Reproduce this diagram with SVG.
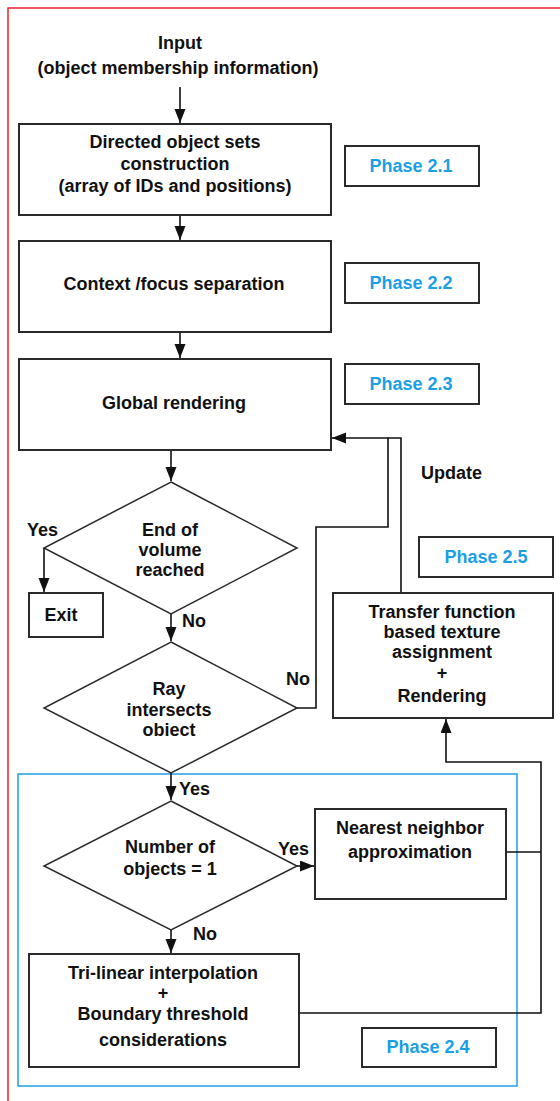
<svg xmlns="http://www.w3.org/2000/svg" width="560" height="1101" viewBox="0 0 560 1101">
<defs>
<marker id="arr" markerUnits="userSpaceOnUse" markerWidth="15" markerHeight="12" refX="14" refY="5.5" orient="auto"><path d="M0,0 L14,5.5 L0,11 z" fill="#111"/></marker>
<style>
text{font-family:"Liberation Sans",Arial,sans-serif;font-weight:bold;font-size:18px;fill:#111;text-anchor:middle}
.box{fill:#fff;stroke:#2a2a2a;stroke-width:2}
.dia{fill:#fff;stroke:#2a2a2a;stroke-width:1.5}
.ph{fill:#fff;stroke:#2a2a2a;stroke-width:2}
.pt{fill:#1a9fe6}
.lbl{text-anchor:start}
.con{fill:none;stroke:#111;stroke-width:1.6}
</style>
</defs>
<rect width="560" height="1101" fill="#fff"/>
<path d="M560,8 H8 V1101" fill="none" stroke="#e8232a" stroke-width="1.5"/>
<rect id="phase24frame" x="18" y="774" width="499" height="312" fill="none" stroke="#1ea0e6" stroke-width="1.5"/>

<g id="connectors">
<path class="con" d="M180,87 V123" marker-end="url(#arr)"/>
<path class="con" d="M180,215 V240" marker-end="url(#arr)"/>
<path class="con" d="M180,332 V358" marker-end="url(#arr)"/>
<path class="con" d="M171,450 V481" marker-end="url(#arr)"/>
<path class="con" d="M44,548 V592" marker-end="url(#arr)"/>
<path class="con" d="M171,614 V641" marker-end="url(#arr)"/>
<path class="con" d="M297,708 H316 V527 H388 V438 H332" marker-end="url(#arr)"/>
<path class="con" d="M401,593 V438 H388"/>
<path class="con" d="M171,773 V800" marker-end="url(#arr)"/>
<path class="con" d="M297,866 H314" marker-end="url(#arr)"/>
<path class="con" d="M171,930 V953" marker-end="url(#arr)"/>
<path class="con" d="M507,852 H541"/>
<path class="con" d="M299,1013 H541 V762 H446 V719" marker-end="url(#arr)"/>
</g>

<g id="input">
<text x="180" y="49">Input</text>
<text x="178" y="74">(object membership information)</text>
</g>

<g id="box1">
<rect class="box" x="19" y="124" width="312" height="91"/>
<text x="175" y="148">Directed object sets</text>
<text x="175" y="170">construction</text>
<text x="175" y="192">(array of IDs and positions)</text>
</g>
<g id="phase21"><rect class="ph" x="345" y="146" width="134" height="40"/><text class="pt" x="411" y="172">Phase 2.1</text></g>

<g id="box2">
<rect class="box" x="19" y="241" width="312" height="91"/>
<text x="174" y="290">Context /focus separation</text>
</g>
<g id="phase22"><rect class="ph" x="345" y="263" width="134" height="40"/><text class="pt" x="411" y="289">Phase 2.2</text></g>

<g id="box3">
<rect class="box" x="19" y="359" width="312" height="91"/>
<text x="174" y="409">Global rendering</text>
</g>
<g id="phase23"><rect class="ph" x="345" y="364" width="134" height="40"/><text class="pt" x="411" y="390">Phase 2.3</text></g>

<g id="update"><text class="lbl" x="421" y="479">Update</text></g>

<g id="diamond1">
<polygon class="dia" points="171,482 297,548 171,614 44,548"/>
<text x="170" y="536">End of</text>
<text x="170" y="556">volume</text>
<text x="170" y="576">reached</text>
<text class="lbl" x="27" y="536">Yes</text>
<text class="lbl" x="182" y="627">No</text>
</g>

<g id="exit">
<rect class="box" x="29" y="593" width="74" height="44"/>
<text x="61" y="621">Exit</text>
</g>

<g id="phase25"><rect class="ph" x="419" y="537" width="134" height="40"/><text class="pt" x="486" y="563">Phase 2.5</text></g>

<g id="transfer">
<rect class="box" x="333" y="593" width="220" height="125"/>
<text x="442" y="618">Transfer function</text>
<text x="442" y="638">based texture</text>
<text x="442" y="658">assignment</text>
<text x="442" y="679">+</text>
<text x="442" y="702">Rendering</text>
</g>

<g id="diamond2">
<polygon class="dia" points="171,642 297,708 171,773 44,708"/>
<text x="169" y="695">Ray</text>
<text x="169" y="716">intersects</text>
<text x="169" y="736">obiect</text>
<text class="lbl" x="286" y="685">No</text>
<text class="lbl" x="179" y="795">Yes</text>
</g>

<g id="diamond3">
<polygon class="dia" points="171,801 297,866 171,930 44,866"/>
<text x="170" y="853">Number of</text>
<text x="170" y="875">objects = 1</text>
<text class="lbl" x="278" y="855">Yes</text>
<text class="lbl" x="193" y="940">No</text>
</g>

<g id="nearest">
<rect class="box" x="315" y="809" width="191" height="90"/>
<text x="410" y="834">Nearest neighbor</text>
<text x="410" y="858">approximation</text>
</g>

<g id="trilinear">
<rect class="box" x="29" y="954" width="270" height="113"/>
<text x="163" y="979">Tri-linear interpolation</text>
<text x="163" y="999">+</text>
<text x="163" y="1020">Boundary threshold</text>
<text x="163" y="1046">considerations</text>
</g>

<g id="phase24"><rect class="ph" x="362" y="1028" width="134" height="39"/><text class="pt" x="428" y="1053">Phase 2.4</text></g>
</svg>
